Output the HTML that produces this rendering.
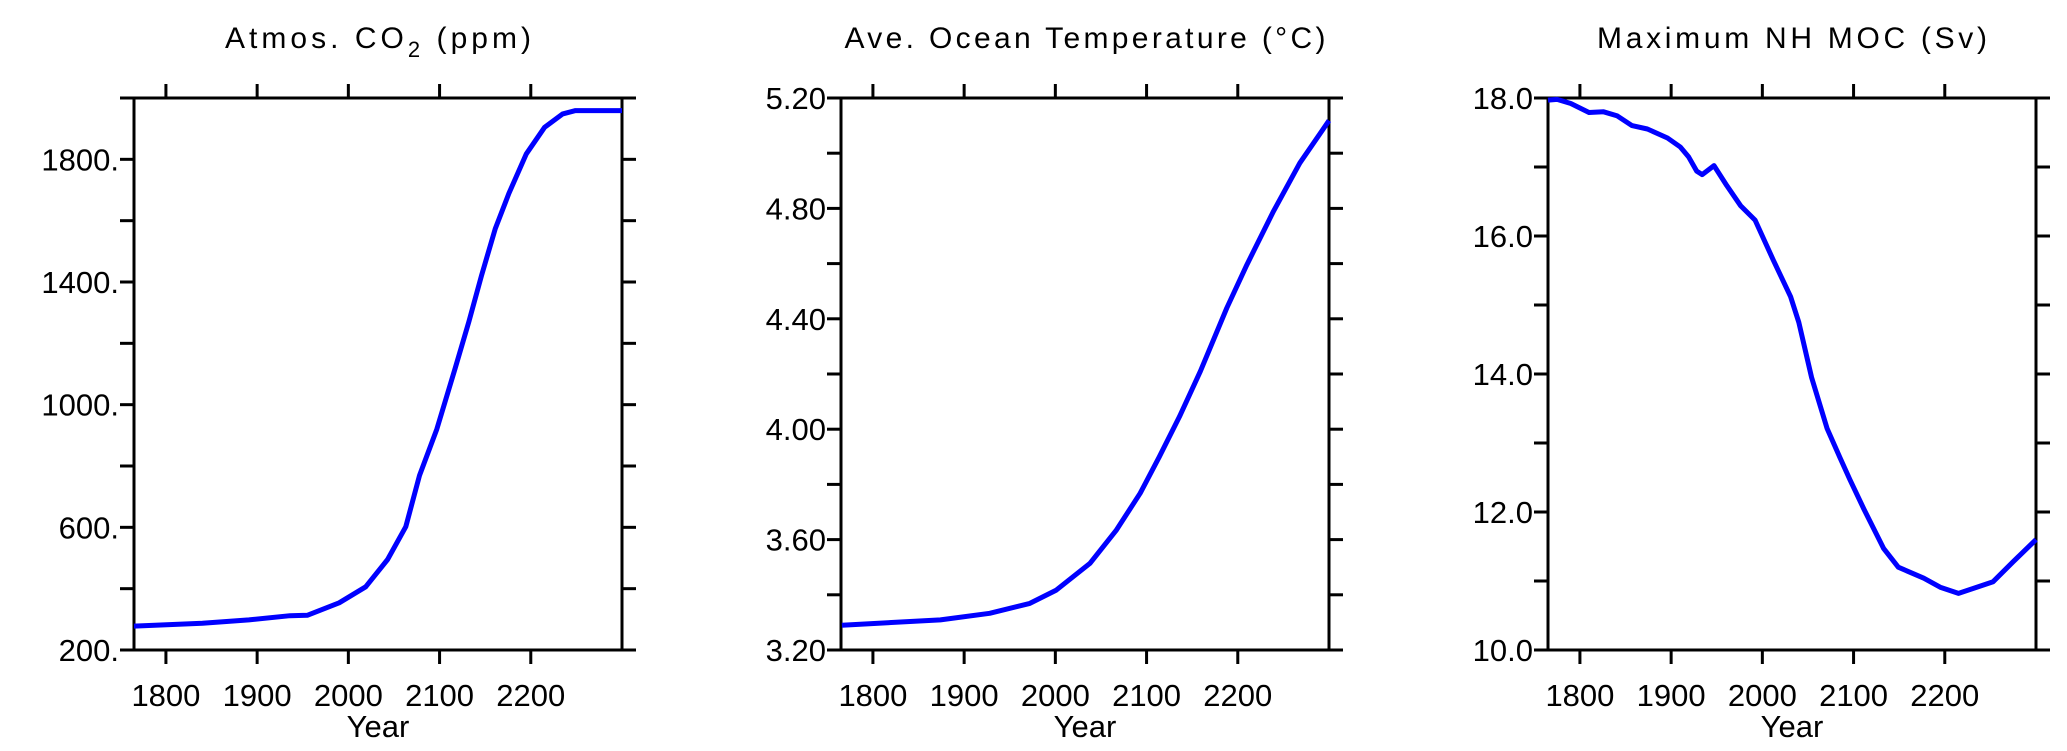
<!DOCTYPE html>
<html><head><meta charset="utf-8"><style>
html,body{margin:0;padding:0;background:#fff;}
svg{display:block;font-family:"Liberation Sans",sans-serif;}
</style></head><body>
<svg id="fig" width="2067" height="751" viewBox="0 0 2067 751"></svg>
<script>
const years1 = [1765,1840,1891,1936,1955,1990,2019,2043,2063,2078,2097,2117,2132,2146,2161,2176,2195,2215,2235,2249,2300];
const co2 = [278,287,298,312,313,354,406,495,602,769,920,1118,1270,1421,1573,1689,1817,1904,1948,1959,1959];
const years2 = [1766,1874,1928,1972,2001,2038,2067,2093,2114,2136,2159,2188,2210,2239,2268,2300];
const temp = [3.29,3.309,3.333,3.369,3.417,3.514,3.635,3.768,3.90,4.045,4.21,4.439,4.596,4.789,4.964,5.118];
const years3 = [1765,1775,1790,1810,1826,1841,1857,1874,1896,1910,1919,1928,1934,1947,1961,1976,1992,2012,2031,2040,2054,2071,2085,2096,2111,2133,2149,2177,2195,2215,2242,2253,2275,2300];
const moc = [17.97,17.98,17.92,17.79,17.80,17.74,17.60,17.55,17.42,17.29,17.15,16.94,16.89,17.02,16.73,16.44,16.23,15.65,15.12,14.75,13.95,13.21,12.79,12.47,12.05,11.47,11.20,11.04,10.91,10.82,10.94,10.99,11.28,11.60];
const xTickLabels = ["1800","1900","2000","2100","2200"];
const xTicks = [1800,1900,2000,2100,2200];
const yLabels1 = ["200.","600.","1000.","1400.","1800."];
const yLabels2 = ["3.20","3.60","4.00","4.40","4.80","5.20"];
const yLabels3 = ["10.0","12.0","14.0","16.0","18.0"];

const NS="http://www.w3.org/2000/svg";
const svg=document.getElementById('fig');
function mk(tag,attrs,parent){const e=document.createElementNS(NS,tag);for(const k in attrs)e.setAttribute(k,attrs[k]);(parent||svg).appendChild(e);return e;}

const TOP=98, BOT=650, W=488, XMIN=1765, XMAX=2300;
function panel(name,left,title,titleLen,ymin,ymax,minorStep,majorVals,majorLabels,xs,ys){
  const g=mk('g',{});
  
  
  const right=left+W;
  const sx=v=>left+(v-XMIN)/(XMAX-XMIN)*W;
  const sy=v=>BOT-(v-ymin)/(ymax-ymin)*(BOT-TOP);
  const frame=mk('rect',{x:left,y:TOP,width:W,height:BOT-TOP,fill:'none',stroke:'#000','stroke-width':3},g);
  
  
  const n=Math.round((ymax-ymin)/minorStep);
  for(let i=0;i<=n;i++){
    const y=sy(ymin+i*minorStep);
    const t1=mk('line',{x1:left-14,x2:left,y1:y,y2:y,stroke:'#000','stroke-width':3},g);
    
    
    const t2=mk('line',{x1:right,x2:right+14,y1:y,y2:y,stroke:'#000','stroke-width':3},g);
    
    
  }
  majorVals.forEach((v,i)=>{
    const t=mk('text',{x:left-15,y:sy(v)+11,'font-size':31,'text-anchor':'end',fill:'#000'},g);
    t.textContent=majorLabels[i];
    
    
  });
  xTicks.forEach((v,i)=>{
    const x=sx(v);
    const a=mk('line',{x1:x,x2:x,y1:TOP-14,y2:TOP,stroke:'#000','stroke-width':3},g);
    
    
    const b=mk('line',{x1:x,x2:x,y1:BOT,y2:BOT+14,stroke:'#000','stroke-width':3},g);
    
    
    const t=mk('text',{x:x,y:706,'font-size':31,'text-anchor':'middle',fill:'#000'},g);
    t.textContent=xTickLabels[i];
    
    
  });
  const xt=mk('text',{x:left+W/2,y:737,'font-size':31,'text-anchor':'middle',fill:'#000'},g);
  xt.textContent='Year';
  
  
  const tt=mk('text',{x:left+W/2-titleLen/2,y:48,'font-size':30,fill:'#000',textLength:titleLen,lengthAdjust:'spacing'},g);
  tt.innerHTML=title;
  
  
  const pts=xs.map((x,i)=>sx(x).toFixed(1)+','+sy(ys[i]).toFixed(1)).join(' ');
  const pl=mk('polyline',{points:pts,fill:'none',stroke:'#0000ff','stroke-width':5,'stroke-linejoin':'round'},g);
  
  
}
panel('co2',134,'Atmos. CO<tspan font-size="22" dy="9">2</tspan><tspan dy="-9"> (ppm)</tspan>',306,200,2000,200,[200,600,1000,1400,1800],yLabels1,years1,co2);
panel('temperature',841,'Ave. Ocean Temperature (°C)',481,3.2,5.2,0.2,[3.2,3.6,4.0,4.4,4.8,5.2],yLabels2,years2,temp);
panel('moc',1548,'Maximum NH MOC (Sv)',390,10,18,1,[10,12,14,16,18],yLabels3,years3,moc);
</script>
</body></html>
